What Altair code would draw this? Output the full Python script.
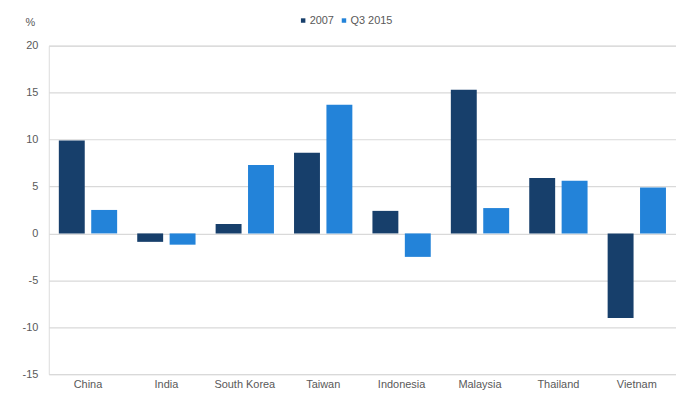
import altair as alt
import pandas as pd

# Country categories and the two series (percent)
countries = ["China", "India", "South Korea", "Taiwan", "Indonesia", "Malaysia", "Thailand", "Vietnam"]
values_2007 = [9.9, -0.9, 1.0, 8.6, 2.4, 15.3, 5.9, -9.0]
values_q3_2015 = [2.5, -1.2, 7.3, 13.7, -2.5, 2.7, 5.6, 4.9]
series_names = ["2007", "Q3 2015"]
y_ticks = [-15, -10, -5, 0, 5, 10, 15, 20]

rows = []
for i, c in enumerate(countries):
    rows.append({"country": c, "series": series_names[0], "value": values_2007[i]})
    rows.append({"country": c, "series": series_names[1], "value": values_q3_2015[i]})
df = pd.DataFrame(rows)

FONT = "Liberation Sans"
TEXT_GREY = "#595959"

bars = alt.Chart(df).mark_bar().encode(
    x=alt.X(
        "country:N",
        sort=countries,
        scale=alt.Scale(paddingInner=0, paddingOuter=0),
        axis=alt.Axis(
            title=None, labelAngle=0, domain=False, ticks=False,
            labelPadding=4, labelFontSize=11, labelColor=TEXT_GREY, labelFont=FONT,
        ),
    ),
    xOffset=alt.XOffset(
        "series:N", sort=series_names,
        scale=alt.Scale(paddingInner=0.2, paddingOuter=0.31),
    ),
    y=alt.Y(
        "value:Q",
        scale=alt.Scale(domain=[-15, 20], nice=False, zero=True),
        axis=alt.Axis(
            values=y_ticks, domain=False, ticks=False, labelPadding=11,
            labelExpr="replace(datum.label, '\u2212', '-')",
            labelFontSize=11, labelColor=TEXT_GREY, labelFont=FONT,
            gridColor="#d9d9d9", gridWidth=1.2,
            title="%", titleAngle=0, titleX=-24, titleY=-23,
            titleAlign="left", titleBaseline="middle",
            titleFontSize=11, titleFontWeight="normal", titleColor=TEXT_GREY, titleFont=FONT,
        ),
    ),
    color=alt.Color(
        "series:N", sort=series_names,
        scale=alt.Scale(domain=series_names, range=["#173f6b", "#2383d9"]),
        legend=alt.Legend(
            title=None, orient="none", legendX=250, legendY=-31,
            direction="horizontal", symbolType="square", symbolSize=20,
            symbolStrokeWidth=0, labelFontSize=11, labelColor=TEXT_GREY,
            labelFont=FONT, columnPadding=4, labelOffset=1,
        ),
    ),
)

chart = bars.properties(
    width=630,
    height=330,
    autosize=alt.AutoSizeParams(type="none"),
    padding={"left": 49, "top": 45, "right": 0, "bottom": 19},
).configure_view(stroke=None).configure(background="white")

chart.save("out.html", embed_options={"renderer": "svg", "actions": False})
